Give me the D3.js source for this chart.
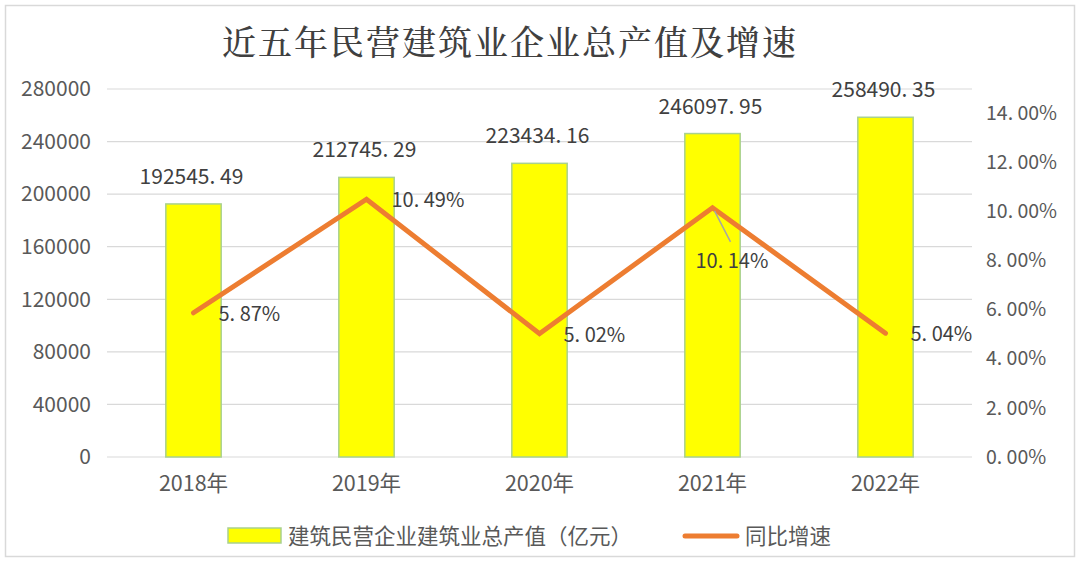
<!DOCTYPE html>
<html><head><meta charset="utf-8">
<script src="https://cdn.jsdelivr.net/npm/d3@7"></script>
<style>body{margin:0;background:#fff}svg{display:block}</style>
</head><body>
<script>
const categories = ["2018年","2019年","2020年","2021年","2022年"];
const outputValues = [192545.49, 212745.29, 223434.16, 246097.95, 258490.35];
const growthValues = [5.87, 10.49, 5.02, 10.14, 5.04];
const leftTicks = [0,40000,80000,120000,160000,200000,240000,280000];
const rightTicks = [0,2,4,6,8,10,12,14];
const titleText = "近五年民营建筑业企业总产值及增速";
const barSeriesName = "建筑民营企业建筑业总产值（亿元）";
const lineSeriesName = "同比增速";

const W=1080,H=563;
const svg=d3.select("body").append("svg").attr("width",W).attr("height",H);
const font="'Noto Sans CJK SC','Noto Sans',sans-serif";
svg.append("rect").attr("x",5.5).attr("y",5.5).attr("width",1069).attr("height",551)
  .attr("fill","#fff").attr("stroke","#d9d9d9").attr("stroke-width",1.5);

svg.append("text").attr("x",510).attr("y",55).attr("text-anchor","middle")
  .attr("font-family","'Noto Serif CJK SC','Noto Sans CJK SC',serif").attr("font-size",34)
  .attr("font-weight",500).attr("fill","#404040").attr("letter-spacing",2).text(titleText);

const x=d3.scaleBand().domain(categories).range([107,972]).paddingInner(0.68).paddingOuter(0.34);
const yL=d3.scaleLinear().domain([0,280000]).range([457,89]);
const yR=d3.scaleLinear().domain([0,14]).range([457,113]);
const dotFmt=s=>s.replace(".",". ");

// gridlines
svg.append("g").selectAll("line").data(leftTicks).join("line")
  .attr("x1",107).attr("x2",972).attr("y1",d=>yL(d)).attr("y2",d=>yL(d))
  .attr("stroke","#d9d9d9").attr("stroke-width",1.2);

// left axis
const gl=svg.append("g").attr("transform","translate(107,0)")
  .call(d3.axisLeft(yL).tickValues(leftTicks).tickSize(0).tickPadding(16).tickFormat(d3.format("d")));
gl.select(".domain").remove();
gl.selectAll("text").attr("font-family",font).attr("font-size",21).attr("fill","#595959");

// right axis
const gr=svg.append("g").attr("transform","translate(972,0)")
  .call(d3.axisRight(yR).tickValues(rightTicks).tickSize(0).tickPadding(14).tickFormat(d=>dotFmt(d3.format(".2f")(d))+"%"));
gr.select(".domain").remove();
gr.selectAll("text").attr("font-family",font).attr("font-size",19.5).attr("fill","#595959").style("white-space","pre");

// x axis
const gx=svg.append("g").attr("transform","translate(0,457)")
  .call(d3.axisBottom(x).tickSize(0).tickPadding(19));
gx.select(".domain").remove();
gx.selectAll("text").attr("font-family",font).attr("font-size",21.5).attr("fill","#595959");

// bars
svg.append("g").selectAll("rect").data(outputValues).join("rect")
  .attr("x",(d,i)=>x(categories[i])).attr("width",x.bandwidth())
  .attr("y",d=>yL(d)).attr("height",d=>yL(0)-yL(d))
  .attr("fill","#ffff00").attr("stroke","#a9d18e").attr("stroke-width",1.5);

// bar labels
svg.append("g").selectAll("text").data(outputValues).join("text")
  .attr("x",(d,i)=>x(categories[i])+x.bandwidth()/2-2).attr("y",d=>yL(d)-20)
  .attr("text-anchor","middle").attr("font-family",font).attr("font-size",21).attr("fill","#404040")
  .style("white-space","pre")
  .text(d=>dotFmt(d3.format(".2f")(d)));

// line
const cx=i=>x(categories[i])+x.bandwidth()/2;
svg.append("path").datum(growthValues)
  .attr("d",d3.line().x((d,i)=>cx(i)).y(d=>yR(d)))
  .attr("fill","none").attr("stroke","#ed7d31").attr("stroke-width",5).attr("stroke-linecap","round").attr("stroke-linejoin","miter");

// leader line for 2021
svg.append("line").attr("x1",cx(3)+2).attr("y1",yR(growthValues[3])+3).attr("x2",cx(3)+18).attr("y2",yR(growthValues[3])+34)
  .attr("stroke","#a6a6a6").attr("stroke-width",1.5);

const lblOff=[[25,8],[25,8],[24,8],[-17,60],[25,8]];
svg.append("g").selectAll("text").data(growthValues).join("text")
  .attr("x",(d,i)=>cx(i)+lblOff[i][0]).attr("y",(d,i)=>yR(d)+lblOff[i][1])
  .attr("font-family",font).attr("font-size",20).attr("fill","#404040")
  .style("white-space","pre")
  .text(d=>dotFmt(d3.format(".2f")(d))+"%");

// legend
svg.append("rect").attr("x",228).attr("y",528).attr("width",53).attr("height",15)
  .attr("fill","#ffff00").attr("stroke","#a9d18e").attr("stroke-width",1.5);
svg.append("text").attr("x",288).attr("y",544).attr("font-family",font).attr("font-size",21.5)
  .attr("fill","#595959").text(barSeriesName);
svg.append("line").attr("x1",685).attr("x2",737).attr("y1",536).attr("y2",536)
  .attr("stroke","#ed7d31").attr("stroke-width",5).attr("stroke-linecap","round");
svg.append("text").attr("x",745).attr("y",544).attr("font-family",font).attr("font-size",21.5)
  .attr("fill","#595959").text(lineSeriesName);
</script>
</body></html>
